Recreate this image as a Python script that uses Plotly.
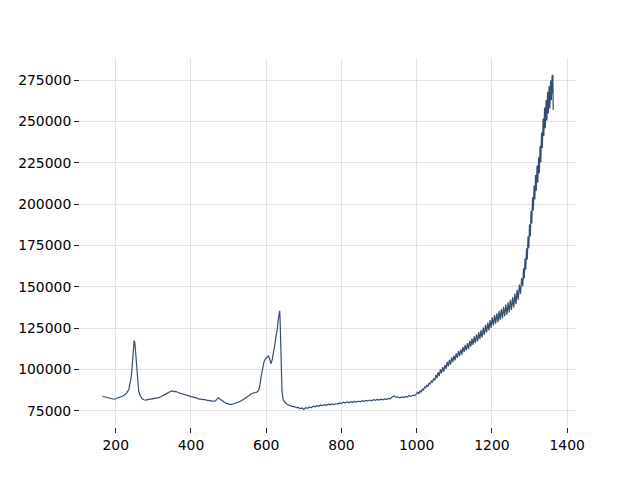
import plotly.graph_objects as go

# Segment A: 165-300
seg_a_x = [165, 170, 175, 180, 185, 190, 195, 200, 205, 210, 215, 220, 225, 230, 235, 238, 241, 243,
           245, 247, 249, 251, 253, 255, 257, 259, 261, 264, 267, 270, 275, 280, 285, 290, 295, 300]
seg_a_y = [83800, 83500, 83100, 82700, 82300, 82100, 82000, 82300, 82700, 83100, 83500, 84100, 84800,
           86000, 88000, 91000, 95000, 99500, 105000, 112500, 117500, 116000, 109000, 102000, 95000,
           90000, 87000, 84800, 83300, 82300, 81700, 81500, 81800, 82000, 82200, 82100]

# Segment B: 305-660
seg_b_x = [305, 310, 315, 320, 325, 330, 335, 340, 345, 350, 355, 360, 365, 370, 375, 380, 385, 390,
           395, 400, 405, 410, 415, 420, 425, 430, 435, 440, 445, 450, 455, 460, 465, 470, 473, 476,
           480, 485, 490, 495, 500, 505, 510, 515, 520, 525, 530, 535, 540, 545, 550, 555, 560, 565,
           570, 575, 580, 583, 586, 590, 594, 598, 602, 606, 609, 613, 616, 620, 623, 626, 629, 632,
           634, 636, 637, 638, 640, 642, 645, 650, 655, 660]
seg_b_y = [82300, 82700, 83000, 83500, 84000, 84700, 85300, 86000, 86700, 87000, 86600, 86800, 86100,
           85800, 85600, 85000, 84900, 84300, 84000, 83600, 83400, 83000, 82800, 82200, 82100, 81700,
           81500, 81600, 81200, 81300, 80900, 81100, 81000, 82200, 83000, 82300, 81500, 80600, 80000,
           79500, 79100, 78800, 79000, 79300, 79700, 80100, 80600, 81300, 82000, 82600, 83300, 84300,
           85300, 85600, 85800, 86300, 87500, 90000, 95000, 101000, 104500, 106500, 107500, 108200,
           106500, 103500, 106000, 110000, 115000, 120000, 123500, 130000, 135000, 135500, 130000,
           118000, 97000, 87000, 82000, 80000, 79000, 78500]

# Segment C: 665-1000
seg_c_x = [665, 670, 675, 680, 685, 690, 695, 700, 705, 710, 715, 720, 725, 730, 735, 740, 745, 750,
           755, 760, 765, 770, 775, 780, 785, 790, 795, 800, 805, 810, 815, 820, 825, 830, 835, 840,
           845, 850, 855, 860, 865, 870, 875, 880, 885, 890, 895, 900, 905, 910, 915, 920, 925, 930,
           935, 940, 945, 950, 955, 960, 965, 970, 975, 980, 985, 990, 995, 1000]
seg_c_y = [78300, 77500, 77600, 76900, 77100, 76300, 76700, 75800, 76900, 76500, 77400, 76900, 77800,
           77400, 78100, 77700, 78500, 78100, 78700, 78300, 79000, 78600, 79200, 78700, 79400, 79100,
           79800, 79400, 80200, 79800, 80400, 79900, 80500, 80100, 80700, 80300, 80900, 80400, 81100,
           80700, 81300, 81000, 81500, 81100, 81700, 81300, 81900, 81500, 82000, 81600, 82200, 81800,
           82500, 82300, 83400, 84000, 83300, 83500, 82900, 83400, 83000, 83700, 83300, 84100, 83700,
           84500, 84200, 85200]

# Segment D: 1003-1279 (noisy rise)
seg_d_x = [1003, 1006, 1009, 1012, 1015, 1018, 1021, 1024, 1027, 1030, 1033, 1036, 1039, 1042, 1045,
           1048, 1051, 1054, 1057, 1060, 1063, 1066, 1069, 1072, 1075, 1078, 1081, 1084, 1087, 1090,
           1093, 1096, 1099, 1102, 1105, 1108, 1111, 1114, 1117, 1120, 1123, 1126, 1129, 1132, 1135,
           1138, 1141, 1144, 1147, 1150, 1153, 1156, 1159, 1162, 1165, 1168, 1171, 1174, 1177, 1180,
           1183, 1186, 1189, 1192, 1195, 1198, 1201, 1204, 1207, 1210, 1213, 1216, 1219, 1222, 1225,
           1228, 1231, 1234, 1237, 1240, 1243, 1246, 1249, 1252, 1255, 1258, 1261, 1264, 1267, 1270,
           1273, 1276, 1279]
seg_d_y = [86300, 85300, 87200, 86200, 88100, 87350, 89600, 88700, 90600, 89600, 91900, 91000, 93300,
           92200, 94650, 93300, 96750, 94700, 98350, 96000, 100050, 97600, 101450, 98700, 102750,
           100400, 104600, 101900, 105800, 102950, 107400, 104400, 108400, 105500, 109800, 107000,
           111200, 108000, 112100, 109000, 113500, 110500, 114900, 111500, 116000, 112400, 117300,
           113900, 118700, 114900, 120000, 115900, 121300, 117050, 122700, 118300, 123850, 119450,
           125400, 121000, 127050, 122400, 128450, 123600, 129850, 125200, 131600, 126600, 132900,
           127700, 134000, 128700, 135400, 130000, 136500, 130900, 138000, 132200, 139300, 133200,
           140700, 134500, 142200, 136000, 143700, 137500, 145900, 139550, 148200, 142200, 151400,
           145800, 155300]

# Segment E: 1282-1363 (steep end)
seg_e_x = [1282, 1284, 1286, 1288, 1290, 1292, 1294, 1296, 1298, 1300, 1302, 1304, 1306, 1308, 1310,
           1312, 1314, 1316, 1318, 1320, 1322, 1324, 1326, 1328, 1330, 1332, 1334, 1336, 1338, 1340,
           1342, 1344, 1346, 1348, 1350, 1352, 1354, 1356, 1358, 1360, 1361, 1362, 1363]
seg_e_y = [150400, 161300, 155200, 167200, 160500, 173400, 166600, 180500, 173400, 187800, 180500,
           196000, 188400, 204200, 196200, 211200, 202900, 217700, 208200, 223500, 213200, 228400,
           218800, 235200, 225500, 243400, 234000, 251800, 241300, 258500, 246000, 263000, 250700,
           268100, 255000, 271500, 258000, 275000, 263000, 278000, 267000, 278400, 257000]

x_ticks = [200, 400, 600, 800, 1000, 1200, 1400]
y_ticks = [75000, 100000, 125000, 150000, 175000, 200000, 225000, 250000, 275000]

x_vals = seg_a_x + seg_b_x + seg_c_x + seg_d_x + seg_e_x
y_vals = seg_a_y + seg_b_y + seg_c_y + seg_d_y + seg_e_y

fig = go.Figure(go.Scatter(x=x_vals, y=y_vals, mode="lines",
                           line=dict(color="#344e70", width=1.2), hoverinfo="skip"))

axis_common = dict(showgrid=True, gridcolor="#e3e3e3", gridwidth=1, zeroline=False,
                   showline=False, ticks="outside", ticklen=5, tickwidth=1, tickcolor="#222222",
                   tickfont=dict(family="DejaVu Sans", size=13.9, color="black"))

fig.update_layout(
    width=640, height=480,
    margin=dict(l=80, r=64, t=58, b=53),
    paper_bgcolor="white", plot_bgcolor="white",
    showlegend=False,
    xaxis=dict(range=[105.1, 1423.5], tickvals=x_ticks, tickformat="d", **axis_common),
    yaxis=dict(range=[65200, 288500], tickvals=y_ticks, tickformat="d", **axis_common),
)

fig.write_html("out.html", config={"displayModeBar": False, "staticPlot": True},
               post_script="document.body.style.margin='0';")
